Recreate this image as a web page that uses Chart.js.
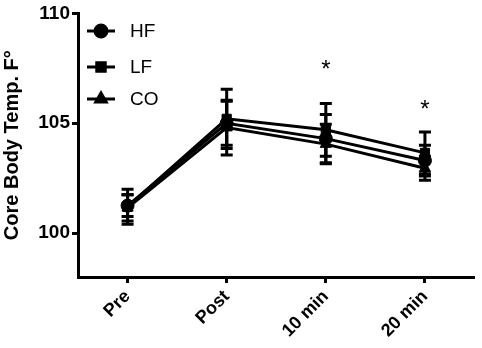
<!DOCTYPE html>
<html>
<head>
<meta charset="utf-8">
<script src="https://cdn.jsdelivr.net/npm/chart.js@4.4.1/dist/chart.umd.min.js"></script>
<style>
  html, body { margin: 0; padding: 0; background: #fff; }
  #wrap { width: 482px; height: 348px; }
</style>
</head>
<body>
<div id="wrap"><canvas id="tempChart"></canvas></div>
<script>
// data
const timePoints = ["Pre", "Post", "10 min", "20 min"];
const hfMean = [101.25, 105.0, 104.3, 103.3];
const hfErr  = [0.5, 1.0, 1.1, 0.7];
const lfMean = [101.2, 105.2, 104.7, 103.65];
const lfErr  = [0.8, 1.35, 1.2, 0.95];
const coMean = [101.15, 104.8, 104.05, 102.95];
const coErr  = [0.6, 1.25, 0.9, 0.55];
const yTicks = [100, 105, 110];
const sigMarks = ["", "", "*", "*"];
const sigLevel = [null, null, 107.65, 105.8];

const FONT = "Liberation Sans, Arial, Helvetica, sans-serif";

const series = [
    { label: "HF", data: hfMean, err: hfErr, style: "circle" },
    { label: "LF", data: lfMean, err: lfErr, style: "rect" },
    { label: "CO", data: coMean, err: coErr, style: "triangle" }
];

// error bars with caps, drawn through the chart's own scales
const errorBars = {
    id: "errorBars",
    afterDatasetsDraw(chart) {
        const ctx = chart.ctx;
        const x = chart.scales.x, y = chart.scales.y;
        ctx.save();
        ctx.strokeStyle = "#000";
        ctx.lineWidth = 3;
        series.forEach(s => {
            s.data.forEach((m, i) => {
                const px = x.getPixelForValue(i);
                const top = y.getPixelForValue(m + s.err[i]);
                const bot = y.getPixelForValue(m - s.err[i]);
                ctx.beginPath();
                ctx.moveTo(px, top); ctx.lineTo(px, bot);
                ctx.moveTo(px - 6, top); ctx.lineTo(px + 6, top);
                ctx.moveTo(px - 6, bot); ctx.lineTo(px + 6, bot);
                ctx.stroke();
            });
        });
        // significance stars
        ctx.fillStyle = "#000";
        ctx.font = "24px " + FONT;
        ctx.textAlign = "center";
        ctx.textBaseline = "middle";
        sigMarks.forEach((t, i) => {
            if (!t) return;
            ctx.fillText(t, x.getPixelForValue(i), y.getPixelForValue(sigLevel[i]) + 5);
        });
        ctx.restore();
    }
};

// legend in the top-left corner of the plot
const innerLegend = {
    id: "innerLegend",
    afterDraw(chart) {
        const ctx = chart.ctx;
        const rows = [31, 67, 99];
        ctx.save();
        series.forEach((s, i) => {
            const yy = rows[i];
            ctx.strokeStyle = "#000";
            ctx.lineWidth = 3;
            ctx.beginPath();
            ctx.moveTo(87, yy); ctx.lineTo(115, yy);
            ctx.stroke();
            Chart.helpers.drawPoint(ctx, { pointStyle: s.style, radius: 6, rotation: 0, borderWidth: 1 }, 101, yy);
            ctx.fillStyle = "#000";
            ctx.font = "19px " + FONT;
            ctx.textAlign = "left";
            ctx.textBaseline = "middle";
            ctx.fillText(s.label, 130, yy + 1);
        });
        ctx.restore();
    }
};

const ctx = document.getElementById("tempChart").getContext("2d");
ctx.fillStyle = "#000";

new Chart(ctx, {
    type: "line",
    data: {
        labels: timePoints,
        datasets: series.map(s => ({
            label: s.label,
            data: s.data,
            borderColor: "#000",
            backgroundColor: "#000",
            borderWidth: 3,
            pointStyle: s.style,
            pointRadius: 6.5,
            pointBorderWidth: 1,
            tension: 0
        }))
    },
    options: {
        responsive: true,
        maintainAspectRatio: false,
        animation: false,
        layout: { padding: { top: 10, right: 4, left: 0, bottom: 0 } },
        plugins: {
            legend: { display: false },
            tooltip: { enabled: false }
        },
        scales: {
            x: {
                offset: true,
                border: { color: "#000", width: 3 },
                grid: { drawOnChartArea: false, tickLength: 6, tickWidth: 3, tickColor: "#000", offset: false },
                ticks: {
                    color: "#000",
                    font: { family: FONT, size: 18, weight: "bold" },
                    minRotation: 45,
                    maxRotation: 45,
                    padding: 3
                },
                afterFit(scale) { scale.height = 71; }
            },
            y: {
                min: 98,
                max: 110,
                border: { color: "#000", width: 3 },
                grid: { drawOnChartArea: false, tickLength: 6, tickWidth: 3, tickColor: "#000" },
                afterBuildTicks(scale) { scale.ticks = yTicks.map(v => ({ value: v })); },
                ticks: {
                    color: "#000",
                    font: { family: FONT, size: 19, weight: "bold" },
                    padding: 2
                },
                title: {
                    display: true,
                    text: "Core Body Temp. F°",
                    color: "#000",
                    font: { family: FONT, size: 20, weight: "bold" },
                    padding: { top: 0, bottom: 0 }
                },
                afterFit(scale) { scale.width = 78; }
            }
        }
    },
    plugins: [errorBars, innerLegend]
});
</script>
</body>
</html>
